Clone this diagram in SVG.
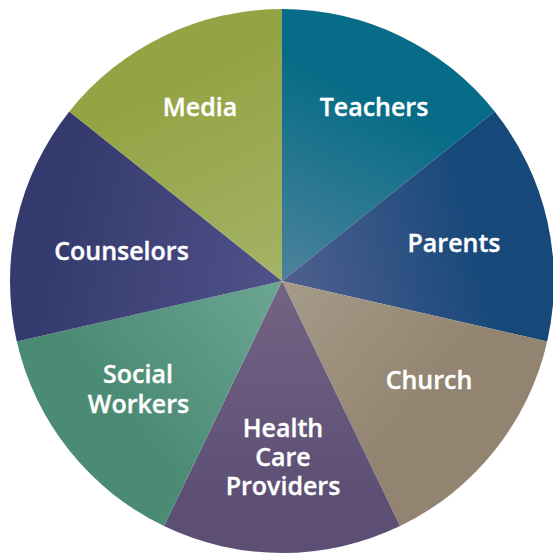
<svg xmlns="http://www.w3.org/2000/svg" width="553" height="556" viewBox="0 0 553 556">
<defs>
<style>
.lbl{font-family:"Open Sans","Noto Sans","Liberation Sans",sans-serif;font-weight:600;font-size:25px;fill:#ffffff;text-anchor:middle;stroke:#ffffff;stroke-width:0.35px}
</style>
<linearGradient id="gT" gradientUnits="userSpaceOnUse" x1="282" y1="281" x2="400" y2="36"><stop offset="0" stop-color="#4d839b"/><stop offset="0.75" stop-color="#076c87"/></linearGradient>
<linearGradient id="gP" gradientUnits="userSpaceOnUse" x1="282" y1="281" x2="547" y2="220"><stop offset="0" stop-color="#50608f"/><stop offset="0.75" stop-color="#16487a"/></linearGradient>
<linearGradient id="gC" gradientUnits="userSpaceOnUse" x1="282" y1="281" x2="495" y2="451"><stop offset="0" stop-color="#a69b89"/><stop offset="0.7" stop-color="#928470"/></linearGradient>
<linearGradient id="gH" gradientUnits="userSpaceOnUse" x1="282" y1="281" x2="282" y2="553"><stop offset="0" stop-color="#736485"/><stop offset="0.8" stop-color="#5d4f74"/></linearGradient>
<linearGradient id="gS" gradientUnits="userSpaceOnUse" x1="282" y1="281" x2="69" y2="451"><stop offset="0" stop-color="#6ca693"/><stop offset="0.75" stop-color="#4b8b74"/></linearGradient>
<linearGradient id="gK" gradientUnits="userSpaceOnUse" x1="282" y1="281" x2="17" y2="220"><stop offset="0" stop-color="#505289"/><stop offset="0.85" stop-color="#343a6e"/></linearGradient>
<linearGradient id="gM" gradientUnits="userSpaceOnUse" x1="282" y1="281" x2="164" y2="36"><stop offset="0" stop-color="#a4b366"/><stop offset="0.8" stop-color="#94a445"/></linearGradient>
</defs>
<g id="connectors"></g>
<g id="teachers">
<path d="M282,281 L282,9 A272,272 0 0 1 494.66,111.41 Z" fill="url(#gT)"/>
<text class="lbl" x="374" y="116">Teachers</text>
</g>
<g id="parents">
<path d="M282,281 L494.66,111.41 A272,272 0 0 1 547.18,341.53 Z" fill="url(#gP)"/>
<text class="lbl" x="454" y="252">Parents</text>
</g>
<g id="church">
<path d="M282,281 L547.18,341.53 A272,272 0 0 1 400.02,526.06 Z" fill="url(#gC)"/>
<text class="lbl" x="429" y="389">Church</text>
</g>
<g id="health">
<path d="M282,281 L400.02,526.06 A272,272 0 0 1 163.98,526.06 Z" fill="url(#gH)"/>
<text class="lbl" x="283" y="437">Health</text>
<text class="lbl" x="283" y="466">Care</text>
<text class="lbl" x="283" y="495">Providers</text>
</g>
<g id="social">
<path d="M282,281 L163.98,526.06 A272,272 0 0 1 16.82,341.53 Z" fill="url(#gS)"/>
<text class="lbl" x="138" y="383">Social</text>
<text class="lbl" x="138.5" y="413">Workers</text>
</g>
<g id="counselors">
<path d="M282,281 L16.82,341.53 A272,272 0 0 1 69.34,111.41 Z" fill="url(#gK)"/>
<text class="lbl" x="121.5" y="260">Counselors</text>
</g>
<g id="media">
<path d="M282,281 L69.34,111.41 A272,272 0 0 1 282,9 Z" fill="url(#gM)"/>
<text class="lbl" x="200" y="116">Media</text>
</g>
</svg>
